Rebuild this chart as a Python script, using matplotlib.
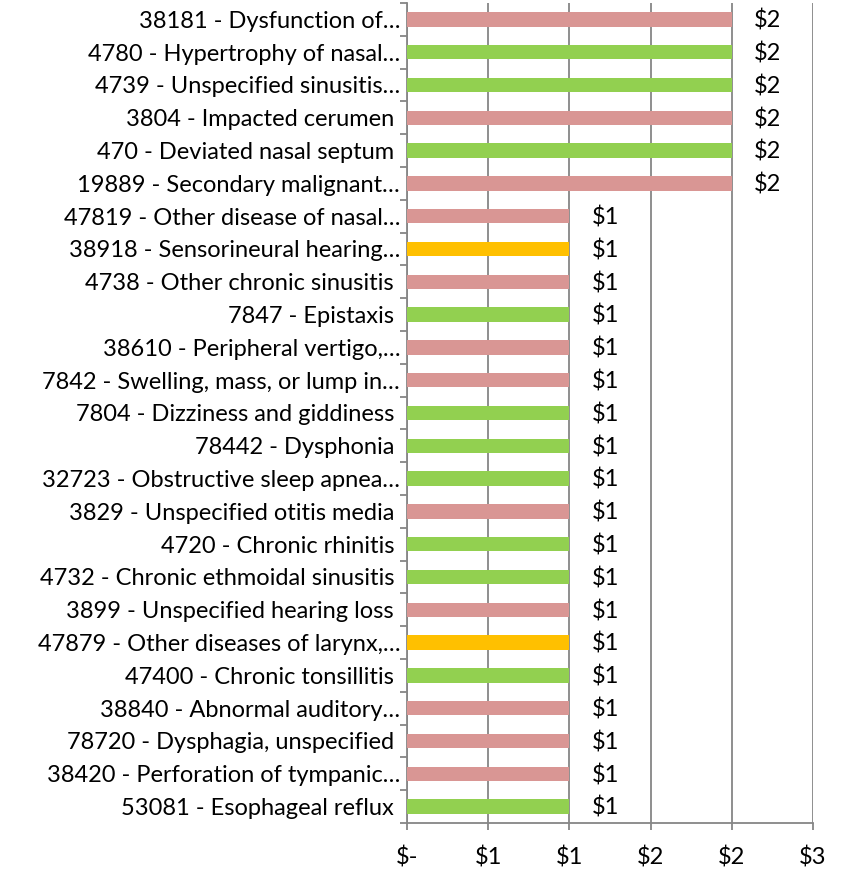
import numpy as np
import matplotlib.pyplot as plt

plt.rcParams['font.family'] = ['Lato', 'DejaVu Sans']

labels = [
    "38181 - Dysfunction of…",
    "4780 - Hypertrophy of nasal…",
    "4739 - Unspecified sinusitis…",
    "3804 - Impacted cerumen ",
    "470 - Deviated nasal septum ",
    "19889 - Secondary malignant…",
    "47819 - Other disease of nasal…",
    "38918 - Sensorineural hearing…",
    "4738 - Other chronic sinusitis ",
    "7847 - Epistaxis ",
    "38610 - Peripheral vertigo,…",
    "7842 - Swelling, mass, or lump in…",
    "7804 - Dizziness and giddiness ",
    "78442 - Dysphonia ",
    "32723 - Obstructive sleep apnea…",
    "3829 - Unspecified otitis media ",
    "4720 - Chronic rhinitis ",
    "4732 - Chronic ethmoidal sinusitis ",
    "3899 - Unspecified hearing loss ",
    "47879 - Other diseases of larynx,…",
    "47400 - Chronic tonsillitis ",
    "38840 - Abnormal auditory…",
    "78720 - Dysphagia, unspecified ",
    "38420 - Perforation of tympanic…",
    "53081 - Esophageal reflux ",
]
values = [2, 2, 2, 2, 2, 2, 1, 1, 1, 1, 1, 1, 1, 1, 1, 1, 1, 1, 1, 1, 1, 1, 1, 1, 1]
groups = ["p", "g", "g", "p", "g", "p", "p", "o", "p", "g", "p", "p", "g", "g", "g",
          "p", "g", "g", "p", "o", "g", "p", "p", "p", "g"]
group_colors = {"p": "#D99694", "g": "#92D050", "o": "#FFC000"}
xticks = [0, 0.5, 1.0, 1.5, 2.0, 2.5]
xticklabels = ["$-", "$1", "$1", "$2", "$2", "$3"]

fig = plt.figure(figsize=(8.42, 8.73), dpi=100)
ax = fig.add_axes([0.4834, 0.0573, 0.4822, 0.9393])

y = np.arange(len(labels))
colors = [group_colors[g] for g in groups]
ax.barh(y, values, height=0.44, color=colors, zorder=3)

for yi, v in zip(y, values):
    ax.annotate("$%d" % v, (v, yi), xytext=(16, -1), textcoords='offset points',
                va='center', ha='left', fontsize=17)

ax.set_ylim(len(labels) - 0.5, -0.5)
ax.set_xlim(0, 2.5)

# category ticks at boundaries, labels at centers
ax.set_yticks(np.arange(-0.5, len(labels), 1.0))
ax.set_yticklabels([])
ax.set_yticks(y, minor=True)
ax.set_yticklabels(labels, minor=True, fontsize=17)
ax.tick_params(axis='y', which='major', length=5, width=1.3, color='#868686')
ax.tick_params(axis='y', which='minor', length=0, pad=5)

ax.set_xticks(xticks)
ax.set_xticklabels(xticklabels, fontsize=17)
ax.tick_params(axis='x', length=5, width=1.3, color='#868686', pad=12)

ax.grid(axis='x', color='#868686', linewidth=1.3, zorder=0)
for s in ['top', 'right']:
    ax.spines[s].set_visible(False)
for s in ['left', 'bottom']:
    ax.spines[s].set_color('#868686')
    ax.spines[s].set_linewidth(1.3)

fig.savefig("out.png", dpi=100)
